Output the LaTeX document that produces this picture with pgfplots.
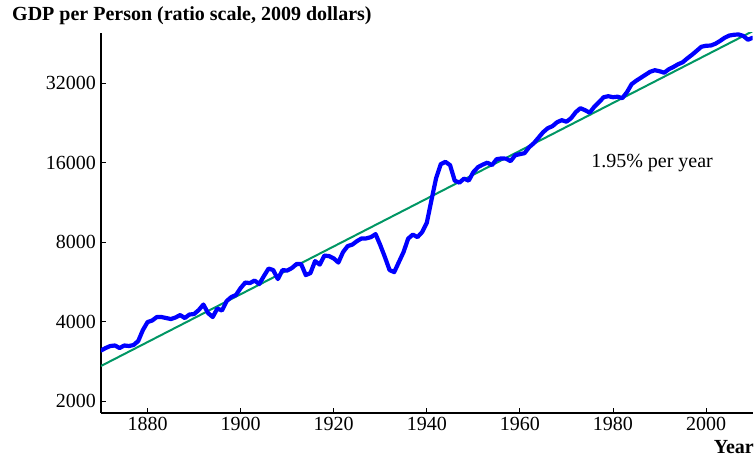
\documentclass[border=0pt]{standalone}
\usepackage{fontspec}
\setmainfont{Liberation Serif}
\usepackage{pgfplots}
\usepackage{pgfplotstable}
\pgfplotsset{compat=1.18}
\definecolor{trendgreen}{RGB}{0,150,100}
\pgfplotstableread{
year gdp
1870 3106
1871 3175
1872 3231
1873 3245
1874 3175
1875 3245
1876 3231
1877 3259
1878 3375
1879 3714
1880 3982
1881 4035
1882 4160
1883 4160
1884 4124
1885 4088
1886 4142
1887 4233
1888 4124
1889 4252
1890 4270
1891 4422
1892 4639
1893 4308
1894 4160
1895 4480
1896 4403
1897 4783
1898 4953
1899 5040
1900 5357
1901 5620
1902 5595
1903 5719
1904 5547
1905 5948
1906 6350
1907 6267
1908 5794
1909 6267
1910 6240
1911 6377
1912 6604
1913 6604
1914 6000
1915 6105
1916 6778
1917 6575
1918 7112
1919 7081
1920 6940
1921 6691
1922 7332
1923 7726
1924 7827
1925 8070
1926 8262
1927 8262
1928 8356
1929 8577
1930 7794
1931 7019
1932 6267
1933 6159
1934 6720
1935 7332
1936 8248
1937 8540
1938 8356
1939 8729
1940 9466
1941 11538
1942 13979
1943 15793
1944 16112
1945 15655
1946 13677
1947 13441
1948 13918
1949 13677
1950 14728
1951 15385
1952 15723
1953 16000
1954 15655
1955 16495
1956 16598
1957 16569
1958 16211
1959 17082
1960 17231
1961 17383
1962 18315
1963 18967
1964 19898
1965 20876
1966 21616
1967 21996
1968 22776
1969 23176
1970 22874
1971 23584
1972 24850
1973 25732
1974 25288
1975 24744
1976 26072
1977 27116
1978 28324
1979 28572
1980 28324
1981 28448
1982 28078
1983 29586
1984 31724
1985 32706
1986 33572
1987 34464
1988 35376
1989 35842
1990 35532
1991 35068
1992 36154
1993 36888
1994 37766
1995 38432
1996 39796
1997 41028
1998 42482
1999 43990
2000 44374
2001 44454
2002 45156
2003 46272
2004 47582
2005 48504
2006 48840
2007 48968
2008 48334
2009 46756
2010 47582
}\gdpdata
\pgfplotstableread{
year trend
1870 2714
2010 50360
}\trenddata
\begin{document}
\fontsize{20bp}{24bp}\selectfont
\begin{tikzpicture}
\useasboundingbox (-101bp,-44bp) rectangle (653bp,413bp);
\begin{axis}[
  at={(0,0)}, anchor=south west,
  scale only axis, width=651.6bp, height=380bp,
  xmin=1870, xmax=2010, ymin=1801, ymax=49600,
  ymode=log,
  axis x line*=bottom, axis y line*=left,
  axis line style={line width=1.2bp, black},
  tick align=inside,
  major tick length=5bp,
  tick style={line width=0.9bp, black},
  xtick={1880,1900,1920,1940,1960,1980,2000},
  xticklabels={1880,1900,1920,1940,1960,1980,2000},
  ytick={2000,4000,8000,16000,32000},
  yticklabels={2000,4000,8000,16000,32000},
  tick label style={font=\fontsize{20bp}{24bp}\selectfont},
  xticklabel style={inner sep=4bp},
  yticklabel style={inner sep=5bp},
  minor tick num=0,
  log ticks with fixed point,
]
\addplot[trendgreen, line width=2bp] table[x=year, y=trend] {\trenddata};
\addplot[blue, line width=4.2bp, line join=round, line cap=round] table[x=year, y=gdp] {\gdpdata};
\node[font=\fontsize{20bp}{24bp}\selectfont] at (axis cs:1988.4,15930) {1.95\% per year};
\end{axis}
\node[anchor=west, inner sep=0, font=\fontsize{20bp}{24bp}\selectfont\bfseries] at (-89bp,397bp) {GDP per Person (ratio scale, 2009 dollars)};
\node[anchor=east, inner sep=0, font=\fontsize{20bp}{24bp}\selectfont\bfseries] at (653bp,-34bp) {Year};
\end{tikzpicture}
\end{document}
